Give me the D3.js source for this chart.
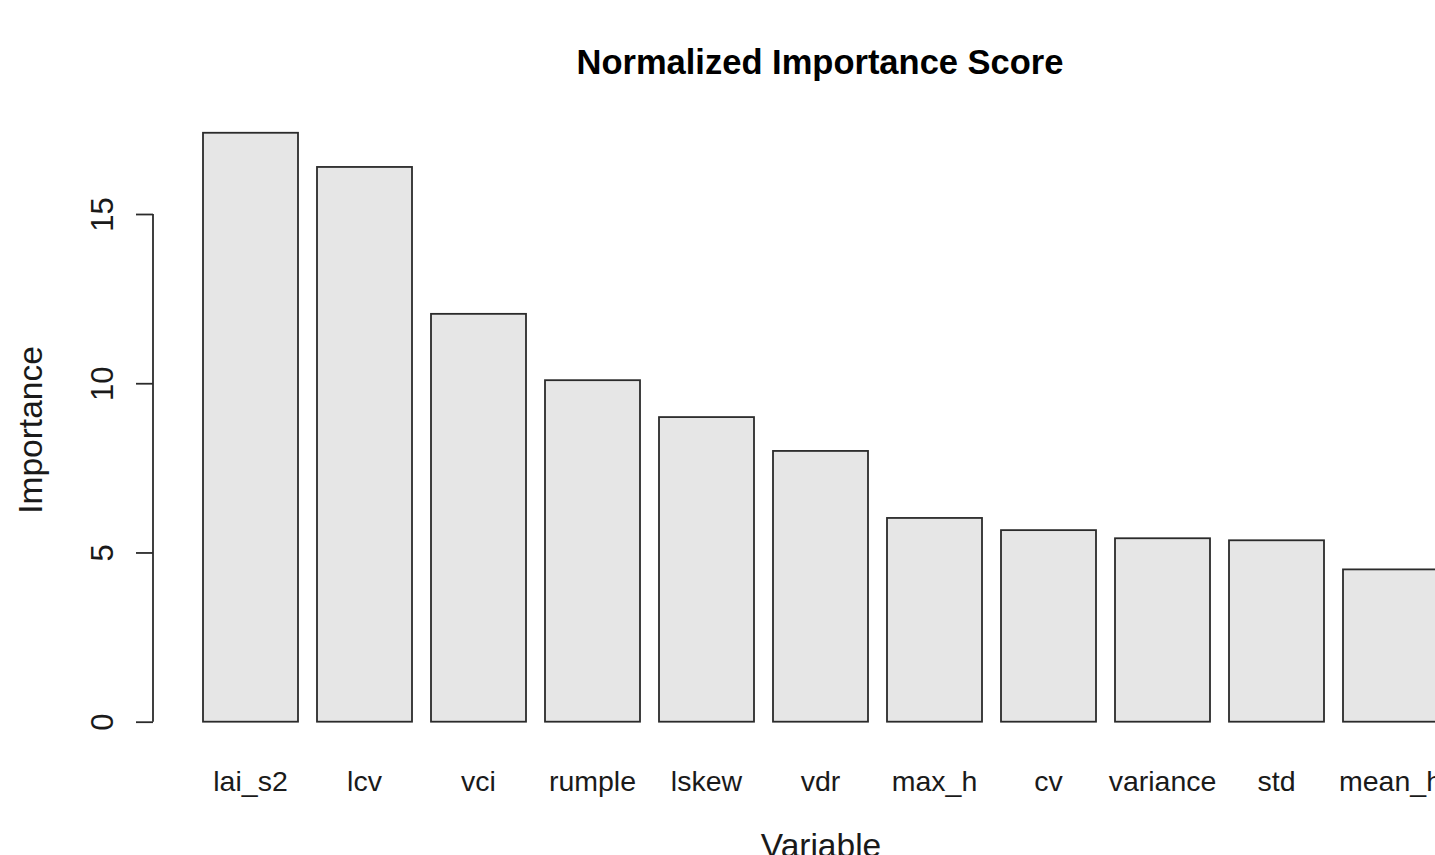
<!DOCTYPE html>
<html>
<head>
<meta charset="utf-8">
<script src="https://cdn.jsdelivr.net/npm/d3@7"></script>
<style>
  html, body { margin: 0; padding: 0; background: #fff; overflow: hidden; }
  text { font-family: "Liberation Sans", Arial, Helvetica, sans-serif; fill: #1a1a1a; }
</style>
</head>
<body>
<svg id="chart" width="1435" height="855"></svg>
<script>
// variable names, in plotted order
const variables = ['lai_s2', 'lcv', 'vci', 'rumple', 'lskew', 'vdr', 'max_h', 'cv', 'variance', 'std', 'mean_h']
// normalized importance
const importance = [17.40, 16.39, 12.05, 10.09, 9.00, 8.00, 6.02, 5.66, 5.42, 5.36, 4.50]
const yTicks = [0, 5, 10, 15]

const svg = d3.select('#chart')

// R barplot: space = 0.2 -> gap is 1/6 of a step
const x = d3.scaleBand()
    .domain(variables)
    .range([184, 184 + 114 * (variables.length + 1 / 6)])
    .paddingInner(1 / 6)
    .paddingOuter(1 / 6)

const y = d3.scaleLinear()
    .domain([0, 15])
    .range([721.7, 214])

// bars
svg.append('g')
    .selectAll('rect')
    .data(variables)
    .join('rect')
    .attr('x', d => x(d))
    .attr('y', (d, i) => y(importance[i]))
    .attr('width', x.bandwidth())
    .attr('height', (d, i) => y(0) - y(importance[i]))
    .style('fill', '#e6e6e6')
    .style('stroke', '#2b2b2b')
    .attr('stroke-width', 1.8)

// category names under the bars (barplot has no x axis line)
svg.append('g')
    .selectAll('text')
    .data(variables)
    .join('text')
    .attr('x', d => x(d) + x.bandwidth() / 2)
    .attr('y', 791)
    .attr('text-anchor', 'middle')
    .style('font-size', '28.5px')
    .text(d => d)

// y axis, R style: ticks pointing left, labels rotated
const yAxis = d3.axisLeft(y)
    .tickValues(yTicks)
    .tickSize(17)
    .tickPadding(0)
    .tickFormat(d3.format('d'))

const gy = svg.append('g')
    .attr('transform', 'translate(153,0)')
    .call(yAxis)

gy.select('.domain')
    .attr('d', 'M0,' + y(0) + 'V' + y(15))
    .style('stroke', '#2b2b2b')
    .attr('stroke-width', 1.8)
gy.selectAll('.tick line')
    .style('stroke', '#2b2b2b')
    .attr('stroke-width', 1.8)
gy.selectAll('.tick text')
    .attr('x', 0)
    .attr('dy', null)
    .attr('transform', 'translate(-40,0) rotate(-90)')
    .attr('text-anchor', 'middle')
    .style('font-size', '31px')
    .style('font-family', '"Liberation Sans", Arial, Helvetica, sans-serif')
    .style('fill', '#1a1a1a')

// titles
svg.append('text')
    .attr('x', 820)
    .attr('y', 74)
    .attr('text-anchor', 'middle')
    .style('font-size', '34.5px')
    .style('font-weight', 'bold')
    .style('fill', '#000')
    .text('Normalized Importance Score')

svg.append('text')
    .attr('transform', 'translate(42,430) rotate(-90)')
    .attr('text-anchor', 'middle')
    .style('font-size', '33.5px')
    .text('Importance')

svg.append('text')
    .attr('x', 821)
    .attr('y', 857)
    .attr('text-anchor', 'middle')
    .style('font-size', '33.5px')
    .text('Variable')
</script>
</body>
</html>
